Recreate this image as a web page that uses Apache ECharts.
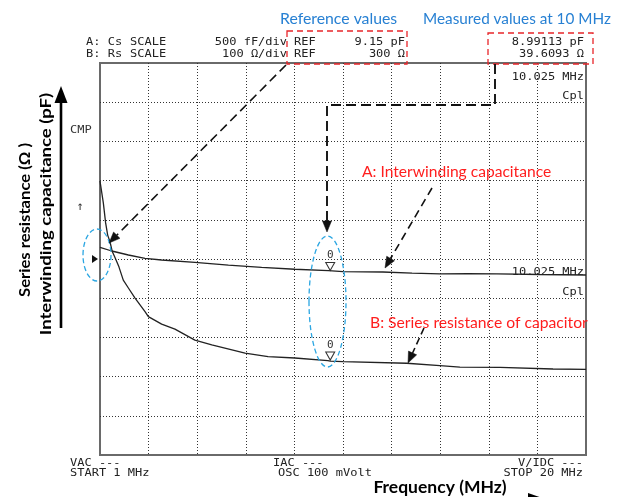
<!DOCTYPE html>
<html>
<head>
<meta charset="utf-8">
<script src="https://cdn.jsdelivr.net/npm/echarts@6/dist/echarts.min.js"></script>
<style>
html,body{margin:0;padding:0;background:#fff;}
#chart{width:618px;height:497px;}
</style>
</head>
<body>
<div id="chart"></div>
<script>
// ---- Sweep settings ----
const fStart = 1;      // MHz
const fStop = 20;      // MHz
const refA = 9.15;     // pF  (trace A reference, centre line)
const divA = 0.5;      // pF/div (500 fF/div)
const refB = 300;      // ohm (trace B reference, centre line)
const divB = 100;      // ohm/div
const markerFreq = 10; // MHz
const markerA = 8.99113; // pF
const markerB = 39.6093; // ohm

// ---- Trace A: interwinding capacitance Cs (pF) ----
const freqA = [1.0, 1.46, 2.11, 2.76, 3.41, 4.71, 6.02, 7.32, 8.62, 9.93, 10.0, 10.5, 12.06, 13.2, 14.29, 15.4, 16.52, 18.2, 20.0];
const capA  = [9.299, 9.252, 9.201, 9.159, 9.137, 9.108, 9.073, 9.044, 9.019, 9.001, 8.991, 8.988, 8.984, 8.970, 8.959, 8.962, 8.959, 8.952, 8.946];

// ---- Trace B: series resistance Rs (ohm) ----
const freqB = [1.0, 1.13, 1.22, 1.30, 1.39, 1.48, 1.59, 1.74, 1.91, 2.11, 2.37, 2.76, 2.89, 3.41, 3.93, 4.71, 5.37, 6.67, 7.57, 8.62, 9.91, 10.0, 10.5, 12.99, 14.29, 15.07, 16.64, 18.71, 20.0];
const resB  = [499, 443, 392, 361, 344, 319, 303, 280, 246, 226, 200, 166, 153, 134, 121, 93, 81, 60, 51, 47.5, 40.6, 39.6, 38, 34, 28, 24, 23.7, 19.4, 18.6];

const gridDivs = 10;

const chart = echarts.init(document.getElementById('chart'), null, {renderer: 'canvas'});

const MONO = '"DejaVu Sans Mono", "Liberation Mono", monospace';
const SANS = 'Lato, "Open Sans", sans-serif';
function mono(text, x, y, align, color) {
  return {
    type: 'text', x: x, y: y, scaleX: 1.2, z: 20,
    style: {
      text: text, x: 0, y: 0, font: '10px ' + MONO, fill: color || '#222',
      align: align || 'left', verticalAlign: 'middle',
      textAlign: align || 'left', textVerticalAlign: 'middle'
    }
  };
}
function txt(text, x, y, font, fill, align, rotation, sx) {
  return {
    type: 'text', x: x, y: y, rotation: rotation || 0, scaleX: sx || 1, z: 20,
    style: {
      text: text, x: 0, y: 0, font: font, fill: fill,
      align: align || 'left', verticalAlign: 'middle',
      textAlign: align || 'left', textVerticalAlign: 'middle'
    }
  };
}
function dashArrow(points, dash, width) {
  const n = points.length;
  const tx = points[n-1][0], ty = points[n-1][1];
  const px = points[n-2][0], py = points[n-2][1];
  const dx = tx - px, dy = ty - py, L = Math.hypot(dx, dy);
  const ux = dx / L, uy = dy / L;
  const hl = 11, hw = 4.5;
  const bx = tx - ux * hl, by = ty - uy * hl;
  const pts = points.slice(0, -1).concat([[bx, by]]);
  return [
    {type: 'polyline', z: 30, shape: {points: pts},
     style: {fill: 'none', stroke: '#111', lineWidth: width || 1.6, lineDash: dash || [8, 5]}},
    {type: 'polygon', z: 30, shape: {points: [[tx, ty], [bx - uy * hw, by + ux * hw], [bx + uy * hw, by - ux * hw]]},
     style: {fill: '#111', stroke: '#111', lineWidth: 0.5}}
  ];
}
function ellipse(cx, cy, rx, ry) {
  return {type: 'ellipse', z: 25, shape: {cx: cx, cy: cy, rx: rx, ry: ry},
          style: {fill: 'none', stroke: '#2ba6e2', lineWidth: 1.3, lineDash: [5, 3]}};
}

const gridSplit = {
  show: true, showMinLine: false, showMaxLine: false,
  lineStyle: {type: [1, 2], color: '#333', width: 1}
};

const graphics = [
  // blue captions
  txt('Reference values', 280, 19, '15.8px ' + SANS, '#2780d3'),
  txt('Measured values at 10 MHz', 423, 19, '15.3px ' + SANS, '#2780d3'),
  // red dashed boxes
  {type: 'rect', z: 25, shape: {x: 287, y: 31, width: 120, height: 33},
   style: {fill: 'none', stroke: '#e8262a', lineWidth: 1.3, lineDash: [6, 4]}},
  {type: 'rect', z: 25, shape: {x: 488, y: 33, width: 105, height: 31},
   style: {fill: 'none', stroke: '#e8262a', lineWidth: 1.3, lineDash: [6, 4]}},
  // header text
  mono('A: Cs', 86, 42, 'left'),
  mono('SCALE', 130, 42, 'left'),
  mono('500 fF/div', 287, 42, 'right'),
  mono('REF', 294, 42, 'left'),
  mono('9.15 pF', 405, 42, 'right'),
  mono('8.99113 pF', 584, 42, 'right'),
  mono('B: Rs', 86, 54, 'left'),
  mono('SCALE', 130, 54, 'left'),
  mono('100 Ω/div', 287, 54, 'right'),
  mono('REF', 294, 54, 'left'),
  mono('300 Ω', 405, 54, 'right'),
  mono('39.6093 Ω', 584, 54, 'right'),
  // in-plot marker readouts
  mono('10.025 MHz', 584, 77, 'right'),
  mono('Cpl', 584, 96, 'right'),
  mono('10.025 MHz', 584, 272, 'right'),
  mono('Cpl', 584, 292, 'right'),
  // left side indicators
  mono('CMP', 70, 130, 'left', '#333'),
  txt('↑', 80, 207, '12px ' + MONO, '#333', 'center'),
  {type: 'polygon', z: 20, shape: {points: [[92, 255], [98, 259], [92, 263]]}, style: {fill: '#111'}},
  // bottom status text
  mono('VAC ---', 70, 463, 'left'),
  mono('START 1 MHz', 70, 473, 'left'),
  mono('IAC ---', 273, 463, 'left'),
  mono('OSC 100 mVolt', 278, 473, 'left'),
  mono('V/IDC ---', 583, 463, 'right'),
  mono('STOP 20 MHz', 583, 473, 'right'),
  // y axis title (rotated) and arrow
  txt('Series resistance (Ω )', 25, 220, 'bold 16px ' + SANS, '#000', 'center', Math.PI / 2, 1.04),
  txt('Interwinding capacitance (pF)', 46, 214, 'bold 16px ' + SANS, '#000', 'center', Math.PI / 2, 1.16),
  {type: 'line', z: 20, shape: {x1: 61, y1: 328, x2: 61, y2: 100}, style: {stroke: '#000', lineWidth: 2.6}},
  {type: 'polygon', z: 20, shape: {points: [[61, 86], [67.5, 103], [54.5, 103]]}, style: {fill: '#000'}},
  // x axis title and arrow tip
  txt('Frequency (MHz)', 440, 487, 'bold 17.5px ' + SANS, '#000', 'center'),
  {type: 'polygon', z: 20, shape: {points: [[528, 493], [548, 500], [528, 507]]}, style: {fill: '#000'}},
  // red annotations
  txt('A: Interwinding capacitance', 362, 172, '15.6px ' + SANS, '#ff1e1e'),
  txt('B: Series resistance of capacitor', 370, 323, '15.7px ' + SANS, '#ff1e1e'),
  // blue ellipses
  ellipse(97, 255, 14, 26),
  ellipse(327.5, 301.5, 18.5, 65.5)
]
.concat(dashArrow([[286, 65], [109, 243]], [9, 5], 1.6))
.concat(dashArrow([[495, 64], [495, 105], [327, 105], [327, 232]], [10, 5], 1.9))
.concat(dashArrow([[432, 188], [385, 268]], [8, 5], 1.6))
.concat(dashArrow([[424, 328], [408, 363]], [7, 4], 1.6));

function marker(val) {
  return {
    symbol: 'triangle', symbolSize: [9, 8], symbolRotate: 180, symbolOffset: [0, -5],
    itemStyle: {color: '#fff', borderColor: '#333', borderWidth: 1},
    label: {show: true, position: 'top', distance: 1, formatter: '0',
            fontFamily: MONO, fontSize: 11, color: '#333'},
    data: [{coord: [markerFreq, val]}],
    animation: false
  };
}

const option = {
  animation: false,
  backgroundColor: '#fff',
  grid: {left: 100, top: 63, width: 486, height: 392, show: true,
         borderColor: '#6a6a6a', borderWidth: 2, backgroundColor: 'transparent'},
  xAxis: [
    {type: 'value', min: fStart, max: fStop, show: false},
    {type: 'value', min: 0, max: gridDivs, interval: 1,
     axisLine: {show: false}, axisTick: {show: false}, axisLabel: {show: false}, splitLine: gridSplit}
  ],
  yAxis: [
    {type: 'value', min: refA - 5 * divA, max: refA + 5 * divA, show: false},
    {type: 'value', min: refB - 5 * divB, max: refB + 5 * divB, show: false},
    {type: 'value', min: 0, max: gridDivs, interval: 1,
     axisLine: {show: false}, axisTick: {show: false}, axisLabel: {show: false}, splitLine: gridSplit}
  ],
  series: [
    {name: 'A: Cs', type: 'line', xAxisIndex: 0, yAxisIndex: 0, showSymbol: false, z: 5,
     lineStyle: {color: '#222', width: 1.3},
     data: freqA.map((f, i) => [f, capA[i]]),
     markPoint: marker(markerA)},
    {name: 'B: Rs', type: 'line', xAxisIndex: 0, yAxisIndex: 1, showSymbol: false, z: 5,
     lineStyle: {color: '#222', width: 1.3},
     data: freqB.map((f, i) => [f, resB[i]]),
     markPoint: marker(markerB)}
  ],
  graphic: graphics
};
chart.setOption(option);
</script>
</body>
</html>
